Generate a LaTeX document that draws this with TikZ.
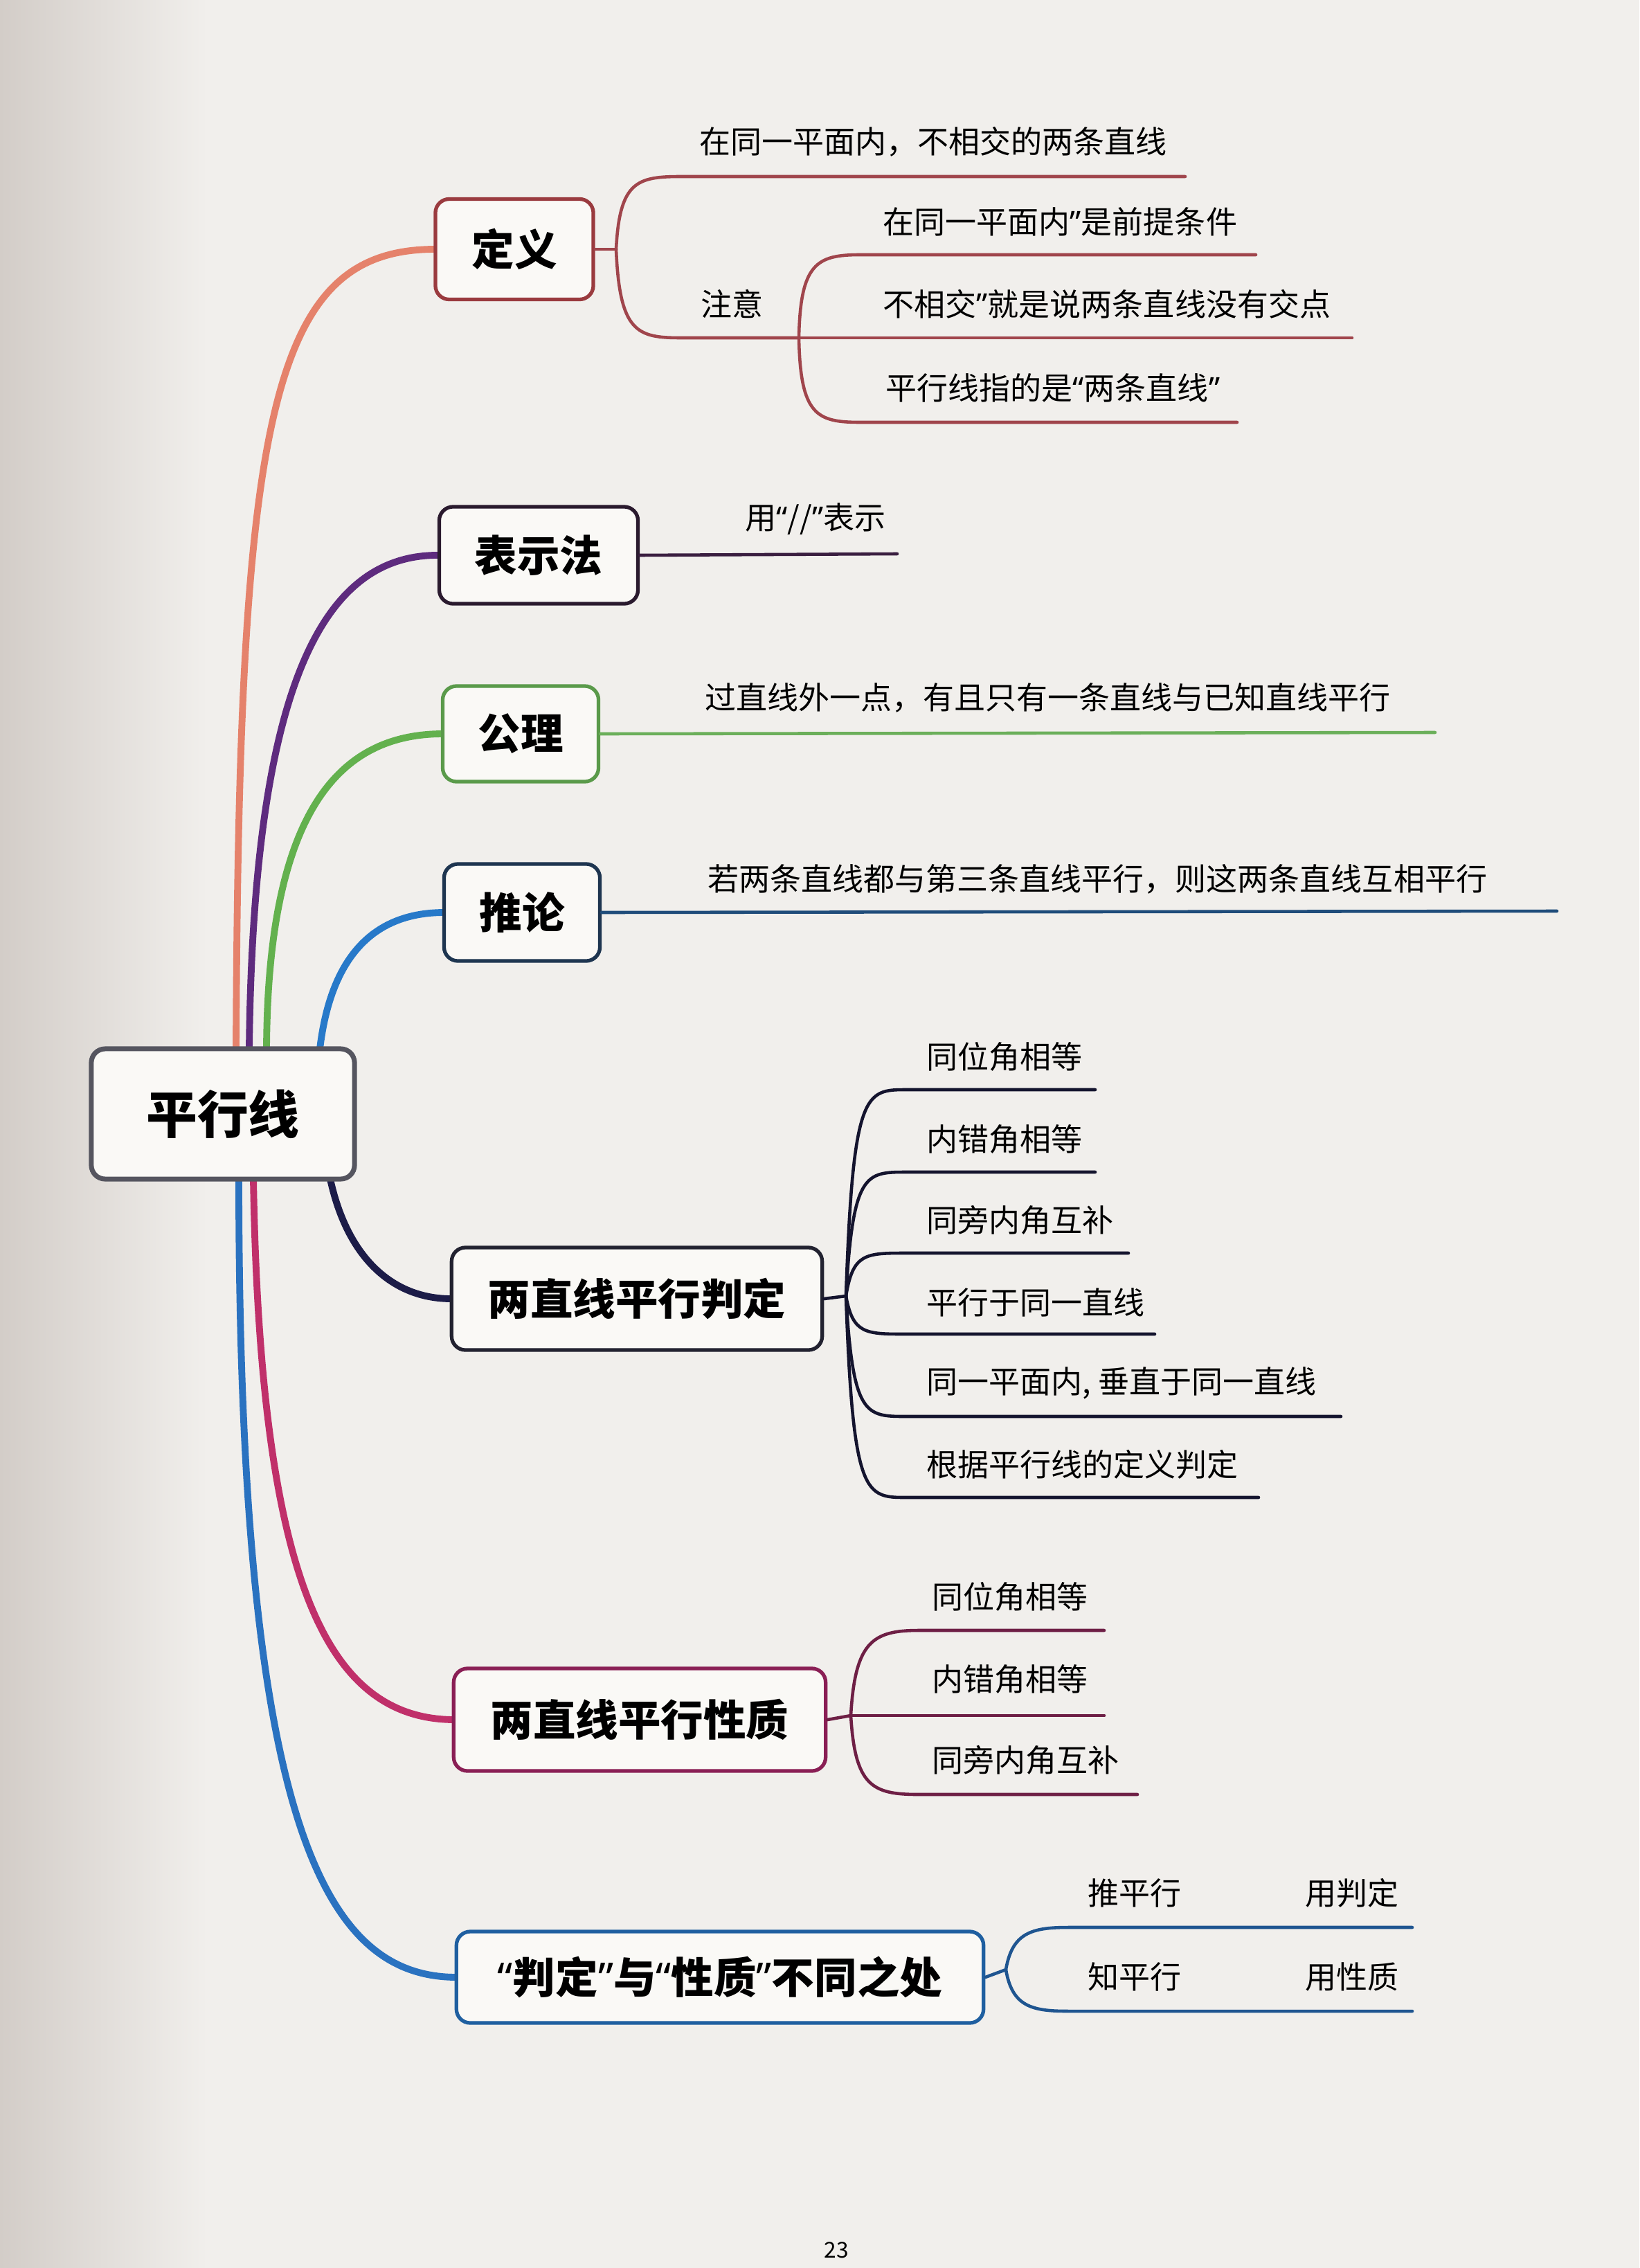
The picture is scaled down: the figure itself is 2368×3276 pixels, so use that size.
\documentclass[tikz,border=0pt]{standalone}
\usepackage{fontspec}
\setmainfont{Noto Sans CJK SC}
\newfontfamily\qf{Noto Sans}
\newcommand{\myLQ}{{\qf “}}
\newcommand{\myRQ}{{\qf ”}}
\definecolor{pagebg}{HTML}{F1EFEC}
\definecolor{pageshadow}{HTML}{D3CDC8}
\definecolor{boxfill}{HTML}{FAF9F6}
\definecolor{cSalmon}{HTML}{E5826B}
\definecolor{cPurple}{HTML}{5E2B7E}
\definecolor{cGreen}{HTML}{63B14E}
\definecolor{cBlue}{HTML}{2779C9}
\definecolor{cNavy}{HTML}{1C1C48}
\definecolor{cMagenta}{HTML}{C0306A}
\definecolor{cBlue2}{HTML}{2A72C0}
\definecolor{bRoot}{HTML}{55555F}
\definecolor{bDef}{HTML}{9A3B3F}
\definecolor{bRep}{HTML}{2A1A2E}
\definecolor{bAx}{HTML}{5A9A4A}
\definecolor{bCor}{HTML}{1E3550}
\definecolor{bJud}{HTML}{222230}
\definecolor{bPro}{HTML}{8A1F55}
\definecolor{bDif}{HTML}{1F5FA0}
\definecolor{tDef}{HTML}{A0454C}
\definecolor{tRep}{HTML}{3A1E40}
\definecolor{tAx}{HTML}{6BAF5A}
\definecolor{tCor}{HTML}{1F4C7A}
\definecolor{tJud}{HTML}{14142E}
\definecolor{tPro}{HTML}{6E1F45}
\definecolor{tDif}{HTML}{1F5590}
\tikzset{
  box/.style={draw, rounded corners=0.2cm, fill=boxfill, line width=1.5pt,
    font=\fontsize{17.5pt}{20pt}\selectfont\bfseries, inner sep=0pt, text=black},
  leaf/.style={anchor=west, inner sep=0pt, font=\fontsize{12.8pt}{15pt}\selectfont, text=black},
  branch/.style={line width=2.8pt, line cap=round},
  twig/.style={line width=1.3pt, line cap=round},
}
\begin{document}
\begin{tikzpicture}[x=0.01cm,y=-0.01cm]
\useasboundingbox (0,0) rectangle (2368,3276);
\fill[pagebg] (0,0) rectangle (2368,3276);
\shade[left color=pageshadow, right color=pagebg] (0,0) rectangle (300,3276);

% ---------- anchor coordinates for main branches ----------
\coordinate (rS) at (341,1515);
\coordinate (rP) at (360,1515);
\coordinate (rG) at (385,1515);
\coordinate (rB) at (462,1515);
\coordinate (rN) at (477,1703);
\coordinate (rM) at (366,1703);
\coordinate (rD) at (345,1703);

% ---------- main branches ----------
\draw[branch, cSalmon] (rS) .. controls (345,600) and (390,360) .. (629,360);
\draw[branch, cPurple] (rP) .. controls (366,980) and (470,800) .. (635,802);
\draw[branch, cGreen] (rG) .. controls (387,1170) and (491,1060) .. (640,1060);
\draw[branch, cBlue] (rB) .. controls (477,1390) and (533,1318) .. (642,1318);
\draw[branch, cNavy] (rN) .. controls (502,1818) and (568,1876) .. (652,1876);
\draw[branch, cMagenta] (rM) .. controls (376,2280) and (470,2483) .. (656,2484);
\draw[branch, cBlue2] (rD) .. controls (345,2640) and (470,2856) .. (660,2856);

% ---------- boxes ----------
\node[box, draw=bRoot, line width=2pt, minimum width=3.8cm, minimum height=1.88cm,
  font=\fontsize{21pt}{24pt}\selectfont\bfseries] (root) at (322,1609) {平行线};
\node[box, draw=bDef, minimum width=2.28cm, minimum height=1.45cm] (dy) at (743,360) {定义};
\node[box, draw=bRep, minimum width=2.87cm, minimum height=1.40cm] (bs) at (778,802) {表示法};
\node[box, draw=bAx, minimum width=2.25cm, minimum height=1.38cm] (gl) at (752,1060) {公理};
\node[box, draw=bCor, minimum width=2.25cm, minimum height=1.40cm] (tl) at (754,1318) {推论};
\node[box, draw=bJud, minimum width=5.35cm, minimum height=1.48cm] (pd) at (920,1876) {两直线平行判定};
\node[box, draw=bPro, minimum width=5.37cm, minimum height=1.48cm] (xz) at (924,2484) {两直线平行性质};
\node[box, draw=bDif, minimum width=7.61cm, minimum height=1.32cm] (bt) at (1040,2856) {\myLQ 判定\myRQ 与\myLQ 性质\myRQ 不同之处};

% ---------- 定义 ----------
\coordinate (dF) at (890,360);
\coordinate (dA) at (1712,255);
\coordinate (dZ) at (1154,488);
\coordinate (dZ1) at (1814,368);
\coordinate (dZ2) at (1953,488);
\coordinate (dZ3) at (1787,610);
\draw[twig, tDef] (dy.east) -- (dF);
\draw[twig, tDef] (dF) .. controls (895,262) and (920,255) .. (984,255) -- (dA);
\draw[twig, tDef] (dF) .. controls (895,480) and (920,488) .. (984,488) -- (dZ);
\draw[twig, tDef] (dZ) .. controls (1156,380) and (1180,368) .. (1243,368) -- (dZ1);
\draw[twig, tDef] (dZ) -- (dZ2);
\draw[twig, tDef] (dZ) .. controls (1156,600) and (1180,610) .. (1243,610) -- (dZ3);
\node[leaf] (dAt) at (1010,205) {在同一平面内，不相交的两条直线};
\node[leaf] (dZt) at (1012,439) {注意};
\node[leaf] (dZ1t) at (1275,320) {在同一平面内\myRQ 是前提条件};
\node[leaf] (dZ2t) at (1275,439) {不相交\myRQ 就是说两条直线没有交点};
\node[leaf] (dZ3t) at (1279,560) {平行线指的是\myLQ 两条直线\myRQ};

% ---------- 表示法 ----------
\coordinate (bE) at (1296,800);
\draw[twig, tRep] (bs.east) -- (bE);
\node[leaf] (bt1) at (1076,750) {用\myLQ//\myRQ 表示};

% ---------- 公理 ----------
\coordinate (gE) at (2073,1058);
\draw[twig, tAx] (gl.east) -- (gE);
\node[leaf] (gt1) at (1018,1008) {过直线外一点，有且只有一条直线与已知直线平行};

% ---------- 推论 ----------
\coordinate (tE) at (2249,1316);
\draw[twig, tCor] (tl.east) -- (tE);
\node[leaf] (tt1) at (1022,1270) {若两条直线都与第三条直线平行，则这两条直线互相平行};

% ---------- 判定 ----------
\coordinate (pF) at (1222,1872);
\draw[twig, tJud] (pd.east) -- (pF);
\foreach \ty/\ex/\nm in {1574/1582/p1, 1693/1582/p2, 1810/1630/p3, 1927/1668/p4, 2046/1937/p5, 2163/1818/p6}{
  \coordinate (\nm) at (\ex,\ty);
  \draw[twig, tJud] (pF) .. controls (1232,\ty) and (1250,\ty) .. (1310,\ty) -- (\nm);
}
\node[leaf] (p1t) at (1338,1526) {同位角相等};
\node[leaf] (p2t) at (1338,1645) {内错角相等};
\node[leaf] (p3t) at (1338,1762) {同旁内角互补};
\node[leaf] (p4t) at (1338,1881) {平行于同一直线};
\node[leaf] (p5t) at (1338,1998) {同一平面内, 垂直于同一直线};
\node[leaf] (p6t) at (1338,2115) {根据平行线的定义判定};

% ---------- 性质 ----------
\coordinate (xF) at (1229,2478);
\coordinate (x1) at (1595,2355);
\coordinate (x2) at (1595,2478);
\coordinate (x3) at (1643,2592);
\draw[twig, tPro] (xz.east) -- (xF);
\draw[twig, tPro] (xF) .. controls (1235,2372) and (1260,2355) .. (1327,2355) -- (x1);
\draw[twig, tPro] (xF) -- (x2);
\draw[twig, tPro] (xF) .. controls (1235,2580) and (1260,2592) .. (1327,2592) -- (x3);
\node[leaf] (x1t) at (1346,2306) {同位角相等};
\node[leaf] (x2t) at (1346,2425) {内错角相等};
\node[leaf] (x3t) at (1346,2542) {同旁内角互补};

% ---------- 不同之处 ----------
\coordinate (fF) at (1453,2845);
\coordinate (f1) at (2040,2784);
\coordinate (f2) at (2040,2905);
\draw[twig, tDif] (bt.east) -- (fF);
\draw[twig, tDif] (fF) .. controls (1462,2792) and (1490,2784) .. (1543,2784) -- (f1);
\draw[twig, tDif] (fF) .. controls (1462,2898) and (1490,2905) .. (1543,2905) -- (f2);
\node[leaf] (f1a) at (1571,2734) {推平行};
\node[leaf] (f1b) at (1885,2734) {用判定};
\node[leaf] (f2a) at (1571,2855) {知平行};
\node[leaf] (f2b) at (1885,2855) {用性质};

% ---------- page number ----------
\node[inner sep=0pt, font=\fontsize{9pt}{10pt}\selectfont] (pg) at (1208,3250) {23};
\end{tikzpicture}
\end{document}
